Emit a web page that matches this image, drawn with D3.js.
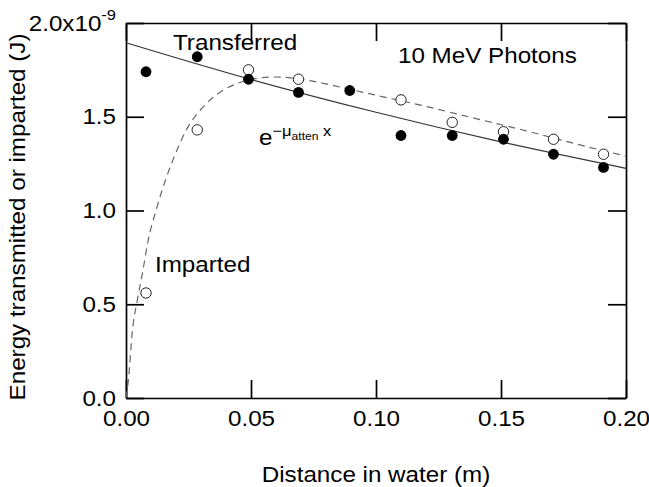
<!DOCTYPE html>
<html>
<head>
<meta charset="utf-8">
<script src="https://cdn.jsdelivr.net/npm/d3@7"></script>
<style>
  html, body { margin: 0; padding: 0; background: #fff; }
  svg { display: block; }
  text { font-family: "Liberation Sans", Arial, Helvetica, sans-serif; fill: #000; }
</style>
</head>
<body>
<svg id="chart" width="649" height="487"></svg>
<script>
// ---- data (values in units of 1e-9 J, distance in m) ----
const xTicks = [0, 0.05, 0.10, 0.15, 0.20];
const yTicks = [0, 0.5, 1.0, 1.5, 2.0];

const transferredX = [0.008, 0.0285, 0.049, 0.069, 0.0895, 0.110, 0.1305, 0.151, 0.171, 0.191];
const transferredY = [1.74, 1.82, 1.70, 1.63, 1.64, 1.40, 1.40, 1.38, 1.30, 1.23];

const impartedX = [0.008, 0.0285, 0.049, 0.069, 0.110, 0.1305, 0.151, 0.171, 0.191];
const impartedY = [0.56, 1.43, 1.75, 1.70, 1.59, 1.47, 1.42, 1.38, 1.30];

// fitted attenuation curve (solid)
const fitX = [0, 0.05, 0.10, 0.15, 0.20];
const fitY = [1.895, 1.699, 1.524, 1.366, 1.225];

// build-up curve (dashed)
const buildX = [0, 0.001, 0.0025, 0.0045, 0.0065, 0.009, 0.012, 0.016, 0.02, 0.025, 0.03, 0.035, 0.04, 0.045, 0.05, 0.06, 0.07, 0.08, 0.09, 0.10, 0.12, 0.14, 0.16, 0.18, 0.20];
const buildY = [0, 0.10, 0.35, 0.52, 0.66, 0.85, 1.00, 1.17, 1.31, 1.45, 1.54, 1.605, 1.65, 1.68, 1.70, 1.712, 1.70, 1.675, 1.645, 1.615, 1.555, 1.49, 1.425, 1.355, 1.29];

const labels = {
  xTitle: "Distance in water (m)",
  yTitle: "Energy transmitted or imparted (J)",
  transferred: "Transferred",
  imparted: "Imparted",
  photons: "10 MeV Photons"
};

// ---- layout ----
const SX = 1.1;           // horizontal stretch of the typeface
const FS = 22;
const plotL = 126, plotR = 626, plotT = 23, plotB = 398;

const svg = d3.select("#chart");
const x = d3.scaleLinear().domain([0, 0.2]).range([plotL, plotR]);
const y = d3.scaleLinear().domain([0, 2.0]).range([plotB, plotT]);

function stretchTexts(sel) {
  sel.selectAll("text").each(function () {
    const t = d3.select(this);
    const xx = +t.attr("x") || 0;
    t.attr("x", xx / SX).attr("transform", `scale(${SX},1)`);
  });
}

// axes
const fmtY = d => d === 2.0 ? "2.0x10" : d3.format(".1f")(d);
const gL = svg.append("g").attr("transform", `translate(${plotL},0)`)
  .call(d3.axisLeft(y).tickValues(yTicks).tickFormat(fmtY).tickSizeInner(-18).tickSizeOuter(0).tickPadding(10));
const gB = svg.append("g").attr("transform", `translate(0,${plotB})`)
  .call(d3.axisBottom(x).tickValues(xTicks).tickFormat(d3.format(".2f")).tickSizeInner(-18).tickSizeOuter(0).tickPadding(12));
const gT = svg.append("g").attr("transform", `translate(0,${plotT})`)
  .call(d3.axisTop(x).tickValues(xTicks).tickFormat("").tickSizeInner(-18).tickSizeOuter(0));
const gR = svg.append("g").attr("transform", `translate(${plotR},0)`)
  .call(d3.axisRight(y).tickValues(yTicks).tickFormat("").tickSizeInner(-18).tickSizeOuter(0));

[gL, gB, gT, gR].forEach(g => {
  g.selectAll("path.domain").attr("stroke", "#000").attr("stroke-width", 1.7);
  g.selectAll(".tick line").attr("stroke", "#000").attr("stroke-width", 1.7);
  g.selectAll("text").attr("font-size", FS).attr("font-family", null).attr("fill", "#000");
});
// superscript on the top y label
gL.selectAll(".tick text").filter(d => d === 2.0)
  .append("tspan").attr("dy", "-11").attr("font-size", 15).text("-9");
stretchTexts(gL);
stretchTexts(gB);

// curves
const line = d3.line().x(d => x(d[0])).y(d => y(d[1])).curve(d3.curveMonotoneX);
svg.append("path")
  .attr("d", line(d3.zip(fitX, fitY)))
  .attr("fill", "none").attr("stroke", "#333").attr("stroke-width", 1.2);
svg.append("path")
  .attr("d", line(d3.zip(buildX, buildY)))
  .attr("fill", "none").attr("stroke", "#666").attr("stroke-width", 1.2)
  .attr("stroke-dasharray", "7,5");

// points
svg.append("g").selectAll("circle")
  .data(d3.zip(impartedX, impartedY)).join("circle")
  .attr("cx", d => x(d[0])).attr("cy", d => y(d[1])).attr("r", 5.2)
  .attr("fill", "#fff").attr("stroke", "#222").attr("stroke-width", 1);
svg.append("g").selectAll("circle")
  .data(d3.zip(transferredX, transferredY)).join("circle")
  .attr("cx", d => x(d[0])).attr("cy", d => y(d[1])).attr("r", 5.4)
  .attr("fill", "#000");

// text helper
function label(txt, px, py, opts = {}) {
  const t = svg.append("text")
    .attr("transform", `translate(${px},${py})${opts.rotate ? ` rotate(${opts.rotate})` : ""} scale(${SX},1)`)
    .attr("font-size", opts.size || FS)
    .attr("text-anchor", opts.anchor || "start")
    .text(txt);
  return t;
}

label(labels.transferred, 173, 50);
label(labels.photons, 398, 63);
label(labels.imparted, 155, 272);
label(labels.xTitle, 376, 482, { anchor: "middle" });
label(labels.yTitle, 25, 217, { anchor: "middle", rotate: -90 });

// e^{-mu_atten x}
const eq = svg.append("text")
  .attr("transform", `translate(259,145) scale(${SX},1)`)
  .attr("font-size", FS);
eq.append("tspan").text("e");
eq.append("tspan").attr("font-size", 15).attr("dy", -9).text("\u2212\u03bc");
eq.append("tspan").attr("font-size", 11).attr("dy", 4).text("atten");
eq.append("tspan").attr("font-size", 15).attr("dy", -4).text(" x");
</script>
</body>
</html>
